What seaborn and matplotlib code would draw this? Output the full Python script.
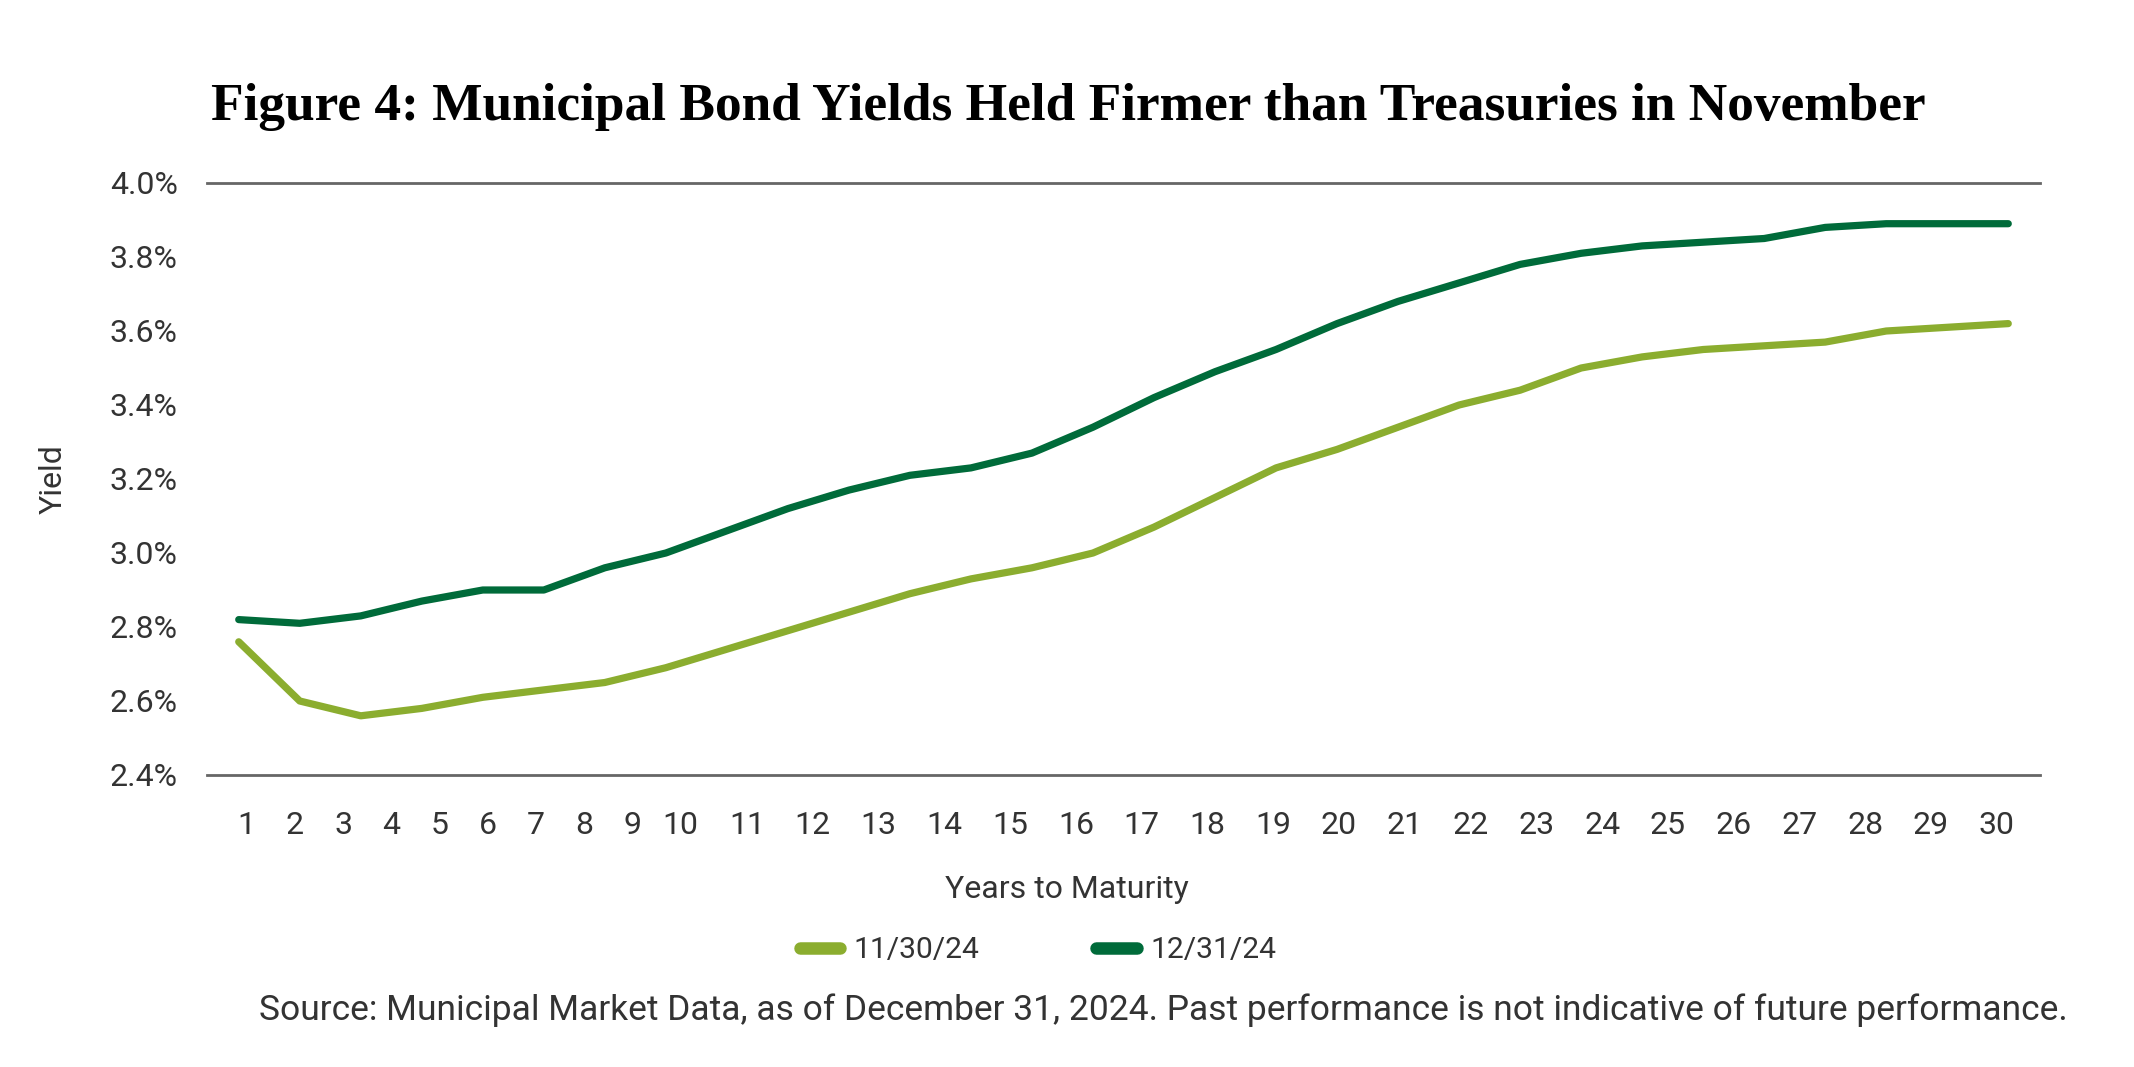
import matplotlib
matplotlib.use("Agg")
import matplotlib.pyplot as plt
import seaborn as sns
import pandas as pd
from matplotlib.ticker import FuncFormatter

# ---------------- data ----------------
maturity = list(range(1, 31))
yield_nov = [2.76, 2.60, 2.56, 2.58, 2.61, 2.63, 2.65, 2.69, 2.74, 2.79,
             2.84, 2.89, 2.93, 2.96, 3.00, 3.07, 3.15, 3.23, 3.28, 3.34,
             3.40, 3.44, 3.50, 3.53, 3.55, 3.56, 3.57, 3.60, 3.61, 3.62]
yield_dec = [2.82, 2.81, 2.83, 2.87, 2.90, 2.90, 2.96, 3.00, 3.06, 3.12,
             3.17, 3.21, 3.23, 3.27, 3.34, 3.42, 3.49, 3.55, 3.62, 3.68,
             3.73, 3.78, 3.81, 3.83, 3.84, 3.85, 3.88, 3.89, 3.89, 3.89]
series_names = ["11/30/24", "12/31/24"]
y_ticks = [2.4, 2.6, 2.8, 3.0, 3.2, 3.4, 3.6, 3.8, 4.0]
tick_labels = [str(m) for m in maturity]

title = "Figure 4: Municipal Bond Yields Held Firmer than Treasuries in November"
source = ("Source: Municipal Market Data, as of December 31, 2024. "
          "Past performance is not indicative of future performance.")

df = pd.DataFrame({
    "Maturity": maturity * 2,
    "Yield": yield_nov + yield_dec,
    "Date": [series_names[0]] * len(maturity) + [series_names[1]] * len(maturity),
})

# ---------------- style ----------------
sns.set_theme(style="white")
plt.rcParams["font.family"] = ["Roboto", "DejaVu Sans"]
TXT = "#333333"
palette = {series_names[0]: "#8BAD2F", series_names[1]: "#006B3A"}

W, H, DPI = 2134, 1067, 200
fig = plt.figure(figsize=(W / DPI, H / DPI), dpi=DPI)
fig.patch.set_facecolor("white")

ax_l, ax_r, ax_t, ax_b = 207, 2040, 183, 775
ax = fig.add_axes([ax_l / W, 1 - ax_b / H, (ax_r - ax_l) / W, (ax_b - ax_t) / H])

sns.lineplot(data=df, x="Maturity", y="Yield", hue="Date", palette=palette,
             linewidth=2.6, ax=ax, legend=True)
for ln in ax.get_lines():
    ln.set_solid_capstyle("round")
    ln.set_solid_joinstyle("round")

ax.set_xlim(0.48, 30.52)
ax.set_ylim(2.4, 4.0)
ax.set_yticks(y_ticks)
ax.yaxis.set_major_formatter(FuncFormatter(lambda v, p: f"{v:.1f}%"))

# tick label placement as in the reference (narrow spacing for 1-10, wider after)
tick_pos = [1.13 + (i - 1) * 0.79 if i <= 10 else 9.33 + (i - 11) * 1.078 for i in maturity]
ax.set_xticks(tick_pos)
ax.set_xticklabels(tick_labels)

ax.tick_params(axis="both", length=0, labelsize=11.5, colors=TXT)
ax.tick_params(axis="x", pad=13)
ax.tick_params(axis="y", pad=10.5)
ax.grid(False)
for side in ["left", "right"]:
    ax.spines[side].set_visible(False)
for side in ["top", "bottom"]:
    ax.spines[side].set_visible(True)
    ax.spines[side].set_color("#666666")
    ax.spines[side].set_linewidth(1.0)
ax.set_xlabel("")
ax.set_ylabel("")

# axis titles
fig.text(53 / W, 1 - 479 / H, "Yield", rotation=90, ha="center", va="center",
         fontsize=11.5, color=TXT)
fig.text(1067 / W, 1 - 890 / H, "Years to Maturity", ha="center", va="center",
         fontsize=11.5, color=TXT)

# legend
handles, labels = ax.get_legend_handles_labels()
ax.legend_.remove()
leg = fig.legend(handles, labels, loc="center", bbox_to_anchor=(1038 / W, 1 - 950 / H),
                 ncol=2, frameon=False, fontsize=10.8, handlelength=1.35,
                 handletextpad=0.45, columnspacing=3.9, labelcolor=TXT)
for h in leg.legend_handles:
    h.set_linewidth(4.5)
    h.set_solid_capstyle("round")

# source (fit to reference width)
s = fig.text(1163 / W, 1 - 1010 / H, source, ha="center", va="center",
             fontsize=11.5, color=TXT)

# title (fit to reference width)
t = fig.text(211 / W, 1 - 120 / H, title, ha="left", va="baseline",
             fontsize=22, fontweight="bold", color="black",
             family=["Liberation Serif", "DejaVu Serif"])
fig.canvas.draw()
r = fig.canvas.get_renderer()
bb = t.get_window_extent(renderer=r)
t.set_fontsize(22 * 1718 / bb.width)
bs = s.get_window_extent(renderer=r)
s.set_fontsize(11.5 * 1815 / bs.width)

fig.savefig("out.png", dpi=DPI, facecolor="white")
